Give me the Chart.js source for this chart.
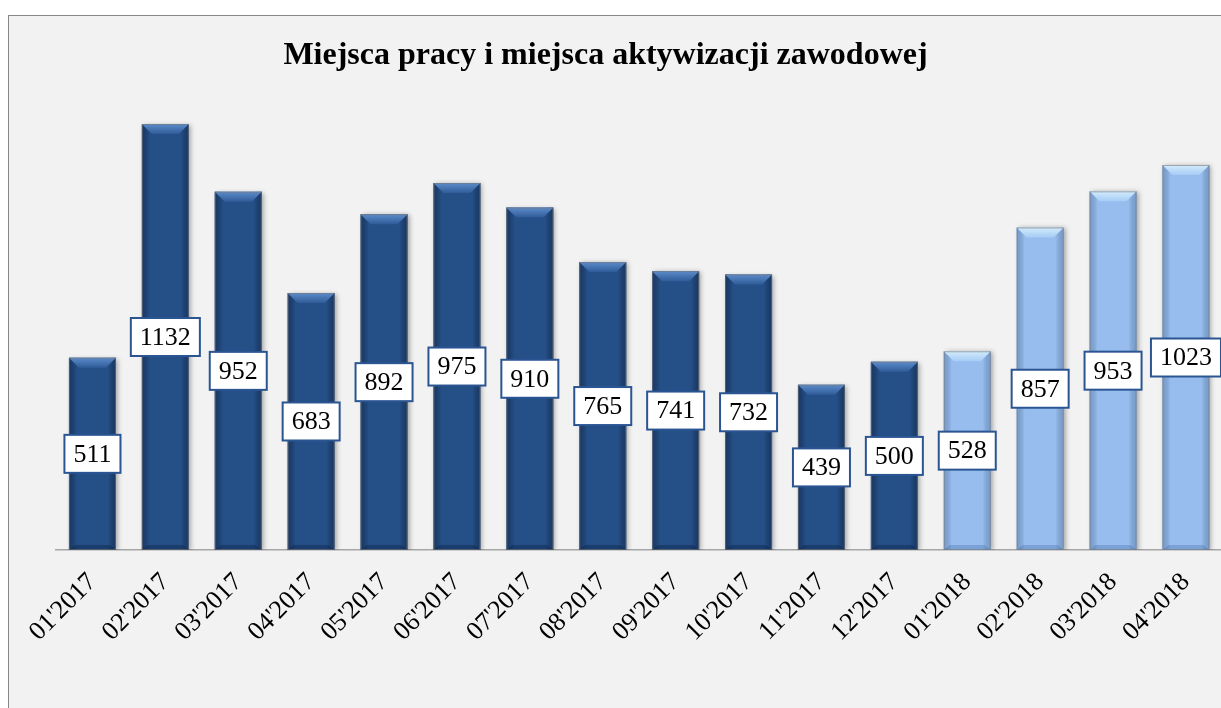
<!DOCTYPE html>
<html><head><meta charset="utf-8">
<script src="https://cdn.jsdelivr.net/npm/chart.js@4.4.1/dist/chart.umd.min.js"></script>
<style>
html,body{margin:0;padding:0;background:#fff;overflow:hidden;width:1221px;height:708px;}
#frame{position:absolute;left:8px;top:15px;width:1300px;height:760px;background:#f2f2f2;border:1px solid #878787;box-sizing:border-box;}
#wrap{position:absolute;left:0;top:0;width:1260px;height:708px;}
canvas{display:block;}
</style></head><body>
<div id="frame"></div>
<div id="wrap"><canvas id="c" width="1260" height="708" style="width:1260px;height:708px"></canvas></div>
<script>
const chartTitle = "Miejsca pracy i miejsca aktywizacji zawodowej";
const categories = ["01'2017","02'2017","03'2017","04'2017","05'2017","06'2017","07'2017","08'2017","09'2017","10'2017","11'2017","12'2017","01'2018","02'2018","03'2018","04'2018"];
const values = [511,1132,952,683,892,975,910,765,741,732,439,500,528,857,953,1023];

const SERIF = '"Liberation Serif", "Times New Roman", serif';
const dark = {main:'#254f87', edge:'rgba(10,30,65,0.45)', top1:'#5d8ccb', top2:'#2f5c98', bottom:'rgba(10,30,60,0.35)'};
const light = {main:'#96bdee', edge:'rgba(60,100,160,0.35)', top1:'#d3ecfd', top2:'#a6cbf4', bottom:'rgba(60,100,160,0.3)'};
const styleFor = (label) => label.endsWith('2018') ? light : dark;

const bevelPlugin = {
  id: 'bevel',
  beforeDatasetDraw(chart){
    const ctx = chart.ctx;
    ctx.save();
    ctx.shadowColor = 'rgba(0,0,0,0.35)';
    ctx.shadowBlur = 5;
    ctx.shadowOffsetX = 2;
    ctx.shadowOffsetY = 1;
  },
  afterDatasetDraw(chart, args){
    const ctx = chart.ctx;
    ctx.restore();
    const meta = chart.getDatasetMeta(args.index);
    meta.data.forEach((bar, i) => {
      const st = styleFor(categories[i]);
      const w = bar.width, l = bar.x - w/2, r = bar.x + w/2, t = bar.y, b = bar.base;
      ctx.save();
      let g = ctx.createLinearGradient(l,0,l+8,0);
      g.addColorStop(0, st.edge); g.addColorStop(1, 'rgba(0,0,0,0)');
      ctx.fillStyle = g; ctx.fillRect(l, t, 8, b - t);
      g = ctx.createLinearGradient(r,0,r-8,0);
      g.addColorStop(0, st.edge); g.addColorStop(1, 'rgba(0,0,0,0)');
      ctx.fillStyle = g; ctx.fillRect(r-8, t, 8, b - t);
      const bh = 10, inset = 10;
      g = ctx.createLinearGradient(0,t,0,t+bh);
      g.addColorStop(0, st.top1); g.addColorStop(1, st.top2);
      ctx.fillStyle = g;
      ctx.beginPath();
      ctx.moveTo(l, t); ctx.lineTo(r, t); ctx.lineTo(r-inset, t+bh); ctx.lineTo(l+inset, t+bh); ctx.closePath();
      ctx.fill();
      ctx.fillStyle = st.bottom;
      ctx.beginPath();
      ctx.moveTo(l, b); ctx.lineTo(r, b); ctx.lineTo(r-6, b-5); ctx.lineTo(l+6, b-5); ctx.closePath();
      ctx.fill();
      ctx.strokeStyle = 'rgba(120,120,120,0.6)';
      ctx.lineWidth = 1;
      ctx.strokeRect(l+0.5, t+0.5, w-1, b-t-1);
      ctx.restore();
    });
  }
};

const labelPlugin = {
  id: 'boxLabels',
  afterDatasetsDraw(chart){
    const ctx = chart.ctx;
    const meta = chart.getDatasetMeta(0);
    ctx.save();
    ctx.font = '26px ' + SERIF;
    ctx.textAlign = 'center';
    ctx.textBaseline = 'middle';
    meta.data.forEach((bar, i) => {
      const txt = String(chart.data.datasets[0].data[i]);
      const tw = ctx.measureText(txt).width;
      const bw = tw + 18, bh = 38;
      const cx = bar.x, cy = (bar.y + bar.base) / 2;
      ctx.fillStyle = '#ffffff';
      ctx.fillRect(cx - bw/2, cy - bh/2, bw, bh);
      ctx.strokeStyle = '#2b5592';
      ctx.lineWidth = 2;
      ctx.strokeRect(cx - bw/2, cy - bh/2, bw, bh);
      ctx.fillStyle = '#000';
      ctx.fillText(txt, cx, cy + 1);
    });
    ctx.restore();
  }
};

const titlePlugin = {
  id: 'customTitle',
  afterDraw(chart){
    const ctx = chart.ctx;
    ctx.save();
    ctx.font = 'bold 32px ' + SERIF;
    ctx.fillStyle = '#000';
    ctx.textAlign = 'center';
    ctx.textBaseline = 'alphabetic';
    ctx.fillText(chartTitle, 605.5, 64);
    ctx.restore();
  }
};

new Chart(document.getElementById('c'), {
  type: 'bar',
  data: {
    labels: categories,
    datasets: [{
      data: values,
      backgroundColor: categories.map(c => styleFor(c).main),
      borderWidth: 0,
      categoryPercentage: 1,
      barPercentage: 0.645
    }]
  },
  options: {
    responsive: false,
    animation: false,
    layout: {padding: {left: 56, right: 37.6, top: 98.4, bottom: 38}},
    plugins: {legend: {display: false}, tooltip: {enabled: false}, title: {display: false}},
    scales: {
      x: {
        grid: {display: false, drawTicks: false},
        border: {display: true, color: '#a6a6a6', width: 1.5},
        ticks: {autoSkip: false, minRotation: 45, maxRotation: 45, padding: 17, color: '#000',
                font: {family: SERIF, size: 26}},
        afterFit(scale){ scale.height = 120; }
      },
      y: {display: false, min: 0, max: 1200}
    }
  },
  plugins: [bevelPlugin, labelPlugin, titlePlugin]
});
</script>
</body></html>
